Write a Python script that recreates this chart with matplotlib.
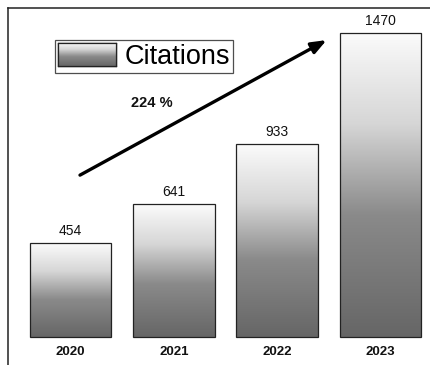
import numpy as np
import matplotlib.pyplot as plt
from matplotlib.colors import LinearSegmentedColormap
from matplotlib.patches import Rectangle

plt.rcParams['font.family'] = ['Liberation Sans', 'DejaVu Sans']

# chart data
years = ['2020', '2021', '2022', '2023']
citations = [454, 641, 933, 1470]
growth_label = '224 %'
series_name = 'Citations'

# light at the top of a bar fading to dark grey at its base
gray_cmap = LinearSegmentedColormap.from_list(
    'bar_fade', [(0, '#fbfbfb'), (0.3, '#d6d6d6'), (0.6, '#8a8a8a'),
                 (1, '#666666')])

fig = plt.figure(figsize=(4.31, 3.65), dpi=100)
ax = fig.add_axes([8 / 431, 0, 1 - 8 / 431, 357 / 365])

x = np.arange(len(years))
bars = ax.bar(x, citations, width=0.79, facecolor='none',
              edgecolor='#222222', linewidth=0.9, zorder=3)

grad = np.linspace(0, 1, 256).reshape(-1, 1)
for b in bars:
    x0, w, h = b.get_x(), b.get_width(), b.get_height()
    im = ax.imshow(grad, cmap=gray_cmap, aspect='auto',
                   extent=(x0, x0 + w, 0, h), origin='upper', zorder=2)
    im.set_clip_path(Rectangle((x0, 0), w, h, transform=ax.transData))

for xi, v in zip(x, citations):
    ax.text(xi, v + 25, str(v), ha='center', va='bottom', fontsize=10,
            color='#111111')

for xi, yr in zip(x, years):
    ax.text(xi, -70, yr, ha='center', va='center', fontsize=9.5,
            fontweight='bold', color='#111111')

ax.set_xlim(-0.605, 3.49)
ax.set_ylim(-135, 1591)
ax.set_xticks([])
ax.set_yticks([])
for side in ['right', 'bottom']:
    ax.spines[side].set_visible(False)
for side in ['left', 'top']:
    ax.spines[side].set_linewidth(1.1)
    ax.spines[side].set_color('#222222')

# growth arrow
ax.annotate('', xy=(2.48, 1436), xytext=(0.092, 783),
            arrowprops=dict(arrowstyle='-|>,head_length=0.9,head_width=0.35',
                            color='black', lw=2.4, shrinkA=0, shrinkB=0),
            zorder=5)
ax.text(0.79, 1131, growth_label, ha='center', va='center', fontsize=10.5,
        fontweight='bold', color='#111111')

# legend with a gradient swatch
handle = Rectangle((0, 0), 1, 1, facecolor='none', edgecolor='#222222')
leg = ax.legend([handle], [series_name], loc='upper left',
                bbox_to_anchor=(0.112, 0.91), fontsize=19.5, frameon=True,
                fancybox=False, edgecolor='#222222', handlelength=2.15,
                handleheight=0.95, handletextpad=0.3, borderpad=0.1,
                borderaxespad=0)
leg.get_frame().set_linewidth(0.9)

fig.canvas.draw()
renderer = fig.canvas.get_renderer()
patch = leg.get_patches()[0]
bb = patch.get_window_extent(renderer).transformed(fig.transFigure.inverted())
sw = fig.add_axes([bb.x0, bb.y0, bb.width, bb.height])
sw.imshow(grad, cmap=gray_cmap, aspect='auto', extent=(0, 1, 0, 1))
sw.set_xticks([])
sw.set_yticks([])
for s in sw.spines.values():
    s.set_linewidth(0.9)
    s.set_color('#222222')

fig.savefig('out.png', dpi=100, facecolor='white')
